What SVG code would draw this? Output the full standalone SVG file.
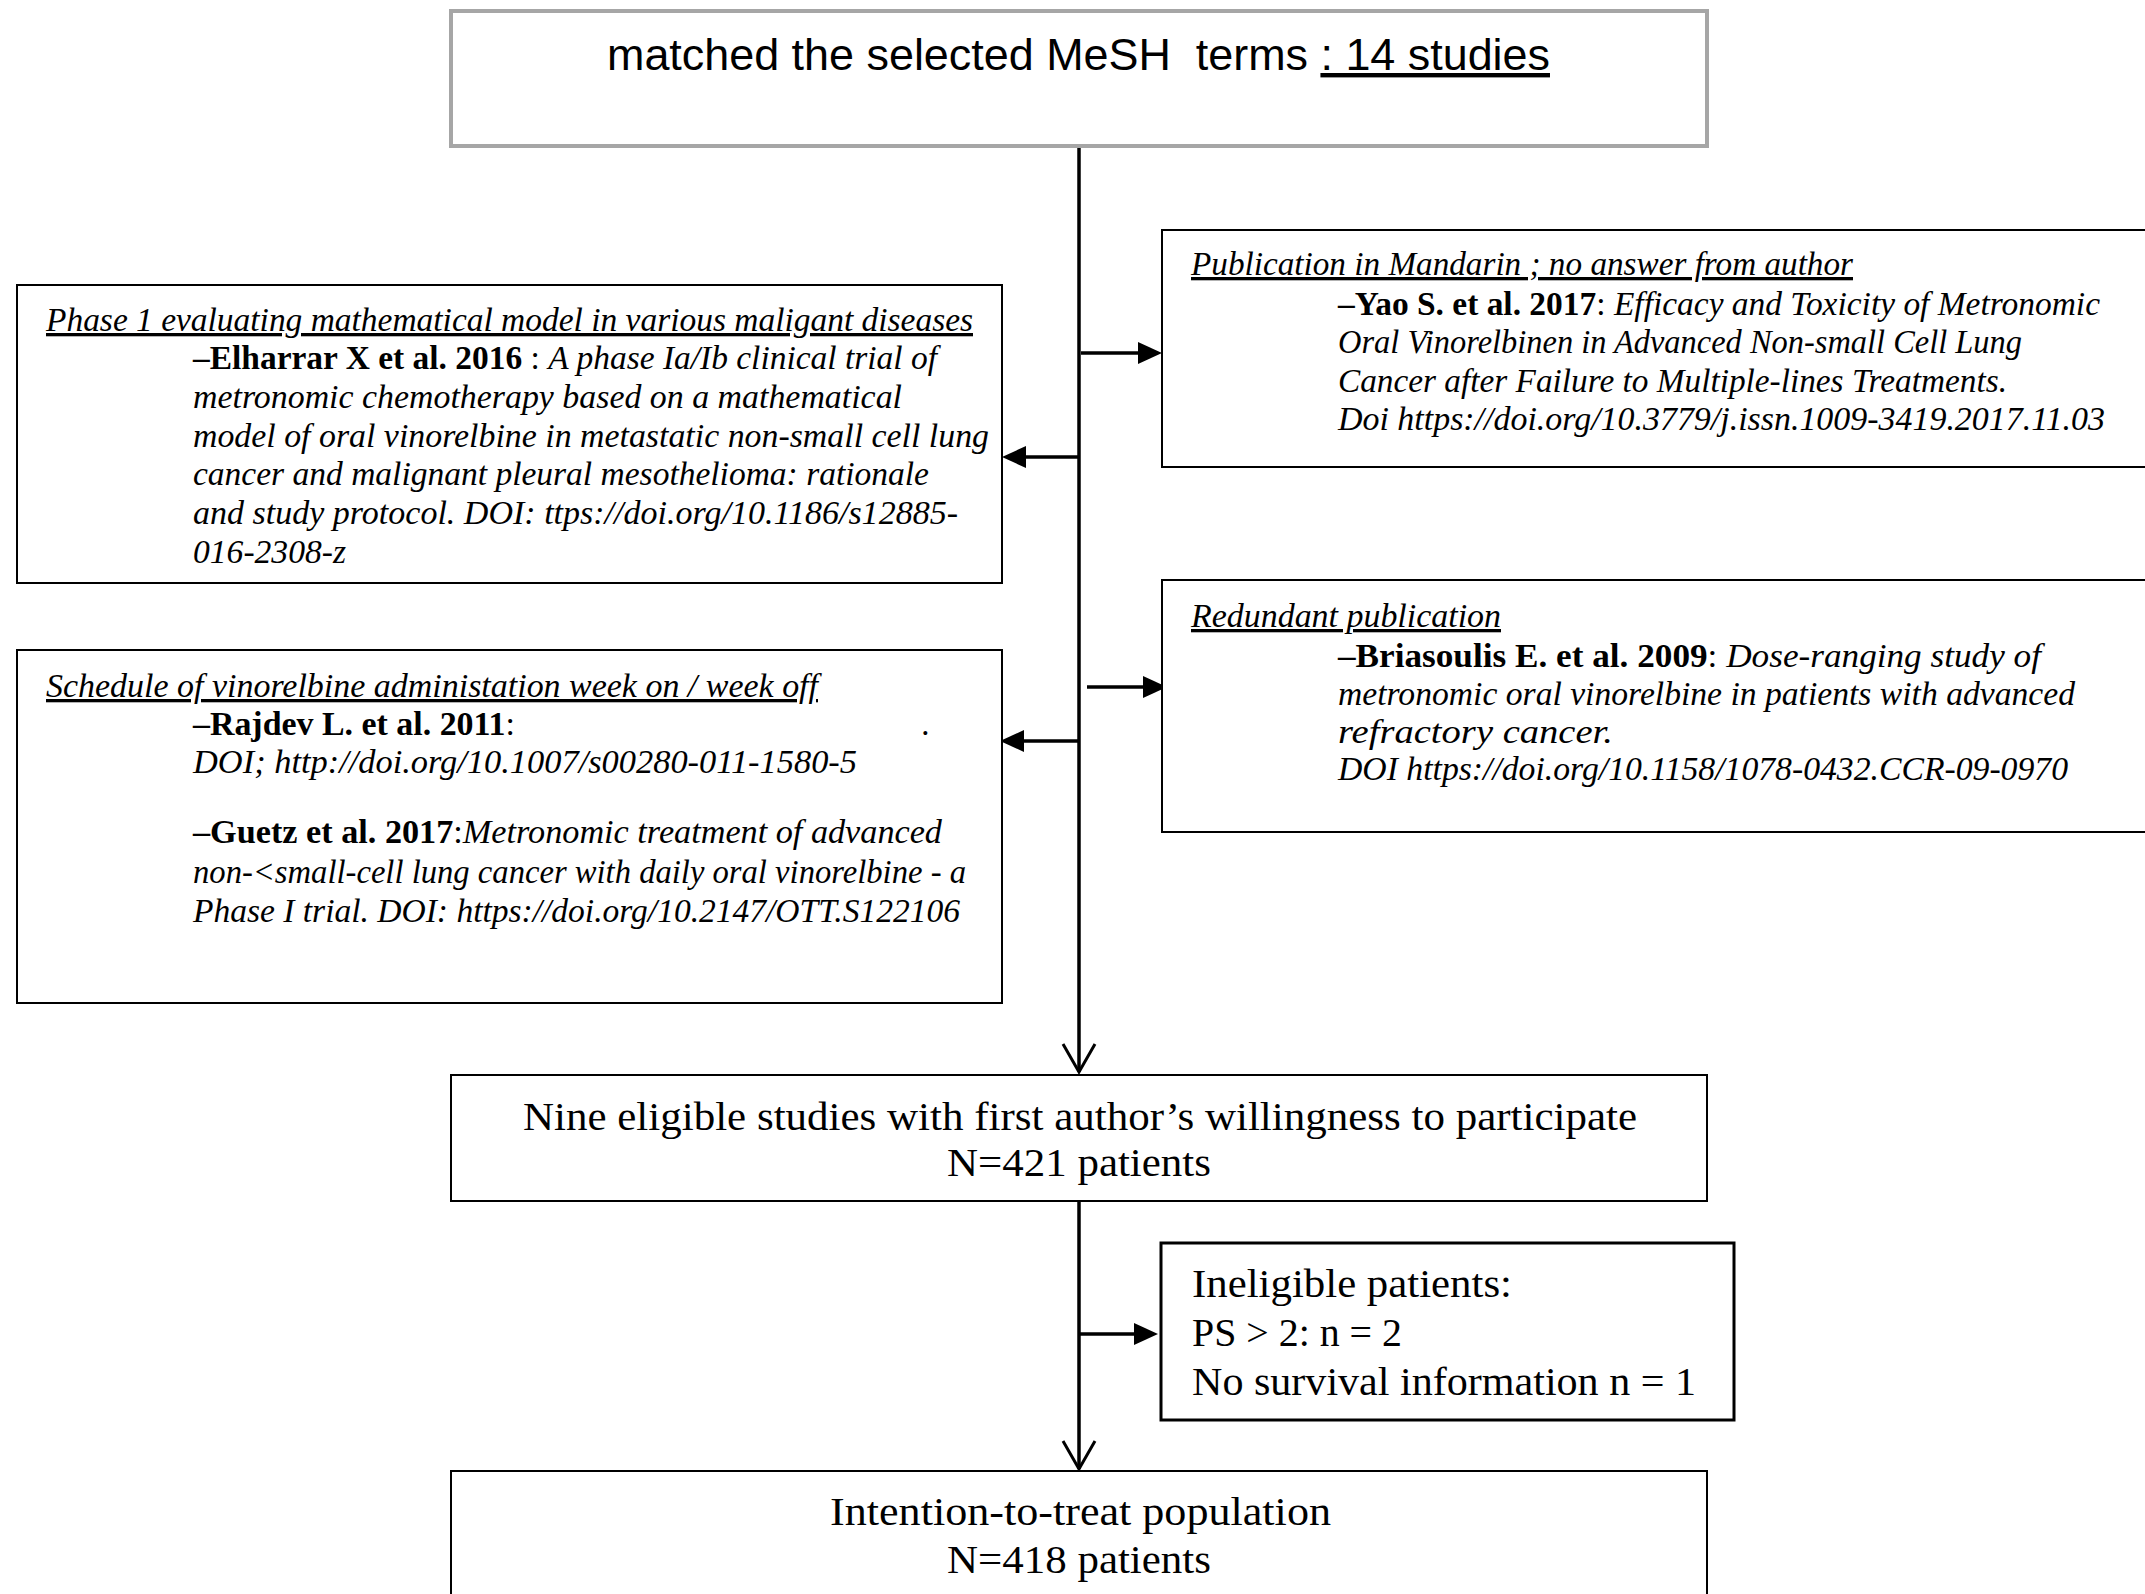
<svg xmlns="http://www.w3.org/2000/svg" width="2145" height="1594" viewBox="0 0 2145 1594">
<defs>
<style>
.box{fill:#fff;stroke:#000;stroke-width:2}
.gray{stroke:#a6a6a6;stroke-width:4}
.thick{stroke-width:3}
.conn{stroke:#000;stroke-width:3.5;fill:none}
.ser{font-family:"Liberation Serif","Times New Roman",serif;fill:#000}
.sm{font-size:33px}
.lg{font-size:39px}
.it{font-style:italic}
.b{font-weight:bold;font-style:normal}
.r{font-style:normal}
.ul{text-decoration:underline}
.sans{font-family:"Liberation Sans",Arial,sans-serif;font-size:44px;fill:#000}
</style>
<marker id="fa" markerUnits="userSpaceOnUse" viewBox="0 0 24 22" markerWidth="24" markerHeight="22" refX="0" refY="11" orient="auto">
<path d="M0,0 L24,11 L0,22 Z" fill="#000"/>
</marker>
<marker id="oa" markerUnits="userSpaceOnUse" viewBox="-31 -19 33 38" markerWidth="33" markerHeight="38" refX="0" refY="0" orient="auto" overflow="visible">
<path d="M-28,-16 L0,0 L-28,16" fill="none" stroke="#000" stroke-width="3"/>
</marker>
</defs>
<rect width="2145" height="1594" fill="#fff"/>

<g id="connectors">
<line class="conn" x1="1079" y1="146" x2="1079" y2="1072" marker-end="url(#oa)"/>
<line class="conn" x1="1079" y1="1201" x2="1079" y2="1469" stroke-width="3" marker-end="url(#oa)"/>
<line class="conn" x1="1081" y1="353" x2="1138" y2="353" marker-end="url(#fa)"/>
<line class="conn" x1="1079" y1="457" x2="1026" y2="457" marker-end="url(#fa)"/>
<line class="conn" x1="1087" y1="687" x2="1143" y2="687" marker-end="url(#fa)"/>
<line class="conn" x1="1079" y1="741" x2="1024" y2="741" marker-end="url(#fa)"/>
<line class="conn" x1="1079" y1="1334" x2="1134" y2="1334" marker-end="url(#fa)"/>
</g>

<g id="node-top">
<rect class="box gray" x="451" y="11" width="1256" height="135"/>
<text class="sans" x="607" y="70" textLength="943" lengthAdjust="spacingAndGlyphs" xml:space="preserve">matched the selected MeSH  terms <tspan class="ul">: 14 studies</tspan></text>
</g>

<g id="node-phase1">
<rect class="box" x="17" y="285" width="985" height="298"/>
<text class="ser sm it ul" x="46" y="331" textLength="927" lengthAdjust="spacingAndGlyphs">Phase 1 evaluating mathematical model in various maligant diseases</text>
<text class="ser sm it" x="193" y="369" textLength="744" lengthAdjust="spacingAndGlyphs" xml:space="preserve"><tspan class="b">–Elharrar X et al. 2016</tspan><tspan class="r"> : </tspan>A phase Ia/Ib clinical trial of</text>
<text class="ser sm it" x="193" y="408" textLength="709" lengthAdjust="spacingAndGlyphs">metronomic chemotherapy based on a mathematical</text>
<text class="ser sm it" x="193" y="447" textLength="796" lengthAdjust="spacingAndGlyphs">model of oral vinorelbine in metastatic non-small cell lung</text>
<text class="ser sm it" x="193" y="485" textLength="736" lengthAdjust="spacingAndGlyphs">cancer and malignant pleural mesothelioma: rationale</text>
<text class="ser sm it" x="193" y="524" textLength="765" lengthAdjust="spacingAndGlyphs">and study protocol. DOI: ttps://doi.org/10.1186/s12885-</text>
<text class="ser sm it" x="193" y="563" textLength="153" lengthAdjust="spacingAndGlyphs">016-2308-z</text>
</g>

<g id="node-schedule">
<rect class="box" x="17" y="650" width="985" height="353"/>
<text class="ser sm it ul" x="46" y="697" textLength="772" lengthAdjust="spacingAndGlyphs">Schedule of vinorelbine administation week on / week off</text>
<text class="ser sm" x="193" y="735" textLength="322" lengthAdjust="spacingAndGlyphs"><tspan class="b">–Rajdev L. et al. 2011</tspan>:</text>
<text class="ser sm it" x="922" y="735">.</text>
<text class="ser sm it" x="193" y="773" textLength="664" lengthAdjust="spacingAndGlyphs">DOI; http://doi.org/10.1007/s00280-011-1580-5</text>
<text class="ser sm it" x="193" y="843" textLength="749" lengthAdjust="spacingAndGlyphs"><tspan class="b">–Guetz et al. 2017</tspan><tspan class="r">:</tspan>Metronomic treatment of advanced</text>
<text class="ser sm it" x="193" y="883" textLength="773" lengthAdjust="spacingAndGlyphs">non-&lt;small-cell lung cancer with daily oral vinorelbine - a</text>
<text class="ser sm it" x="193" y="922" textLength="767" lengthAdjust="spacingAndGlyphs">Phase I trial. DOI: https://doi.org/10.2147/OTT.S122106</text>
</g>

<g id="node-mandarin">
<rect class="box" x="1162" y="230" width="995" height="237"/>
<text class="ser sm it ul" x="1191" y="275" textLength="662" lengthAdjust="spacingAndGlyphs">Publication in Mandarin ; no answer from author</text>
<text class="ser sm it" x="1338" y="315" textLength="762" lengthAdjust="spacingAndGlyphs" xml:space="preserve"><tspan class="b">–Yao S. et al. 2017</tspan><tspan class="r">: </tspan>Efficacy and Toxicity of Metronomic</text>
<text class="ser sm it" x="1338" y="353" textLength="684" lengthAdjust="spacingAndGlyphs">Oral Vinorelbinen in Advanced Non-small Cell Lung</text>
<text class="ser sm it" x="1338" y="392" textLength="669" lengthAdjust="spacingAndGlyphs">Cancer after Failure to Multiple-lines Treatments.</text>
<text class="ser sm it" x="1338" y="430" textLength="767" lengthAdjust="spacingAndGlyphs">Doi https://doi.org/10.3779/j.issn.1009-3419.2017.11.03</text>
</g>

<g id="node-redundant">
<rect class="box" x="1162" y="580" width="995" height="252"/>
<text class="ser sm it ul" x="1191" y="627" textLength="310" lengthAdjust="spacingAndGlyphs">Redundant publication</text>
<text class="ser sm it" x="1338" y="667" textLength="703" lengthAdjust="spacingAndGlyphs" xml:space="preserve"><tspan class="b">–Briasoulis E. et al. 2009</tspan><tspan class="r">: </tspan>Dose-ranging study of</text>
<text class="ser sm it" x="1338" y="705" textLength="737" lengthAdjust="spacingAndGlyphs">metronomic oral vinorelbine in patients with advanced</text>
<text class="ser sm it" x="1338" y="743" textLength="275" lengthAdjust="spacingAndGlyphs">refractory cancer.</text>
<text class="ser sm it" x="1338" y="780" textLength="730" lengthAdjust="spacingAndGlyphs">DOI https://doi.org/10.1158/1078-0432.CCR-09-0970</text>
</g>

<g id="node-eligible">
<rect class="box" x="451" y="1075" width="1256" height="126"/>
<text class="ser lg" x="523" y="1130" textLength="1114" lengthAdjust="spacingAndGlyphs">Nine eligible studies with first author’s willingness to participate</text>
<text class="ser lg" x="947" y="1176" textLength="264" lengthAdjust="spacingAndGlyphs">N=421 patients</text>
</g>

<g id="node-ineligible">
<rect class="box thick" x="1161" y="1243" width="573" height="177"/>
<text class="ser lg" x="1192" y="1297" textLength="320" lengthAdjust="spacingAndGlyphs">Ineligible patients:</text>
<text class="ser lg" x="1192" y="1346" textLength="210" lengthAdjust="spacingAndGlyphs">PS &gt; 2: n = 2</text>
<text class="ser lg" x="1192" y="1395" textLength="504" lengthAdjust="spacingAndGlyphs">No survival information n = 1</text>
</g>

<g id="node-itt">
<rect class="box" x="451" y="1471" width="1256" height="140"/>
<text class="ser lg" x="830" y="1525" textLength="501" lengthAdjust="spacingAndGlyphs">Intention-to-treat population</text>
<text class="ser lg" x="947" y="1573" textLength="264" lengthAdjust="spacingAndGlyphs">N=418 patients</text>
</g>
</svg>
